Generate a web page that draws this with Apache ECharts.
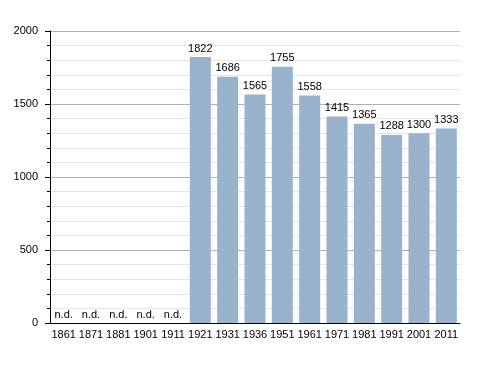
<!DOCTYPE html>
<html><head><meta charset="utf-8">
<script src="https://cdn.jsdelivr.net/npm/echarts@6/dist/echarts.min.js"></script>
<style>html,body{margin:0;padding:0;background:#fff}#c{width:488px;height:373px}</style>
</head><body><div id="c"></div>
<script>
var categories = ['1861','1871','1881','1901','1911','1921','1931','1936','1951','1961','1971','1981','1991','2001','2011'];
var population = [null,null,null,null,null,1822,1686,1565,1755,1558,1415,1365,1288,1300,1333];
var yTicks = [0,500,1000,1500,2000];

var chart = echarts.init(document.getElementById('c'));
var font = 'Liberation Sans, Arial, sans-serif';
chart.setOption({
  animation:false,
  grid:{left:50,right:28,top:31,bottom:50},
  xAxis:{type:'category',data:categories,
    axisLine:{lineStyle:{color:'#000',width:1}},
    axisTick:{show:false},
    axisLabel:{color:'#000',fontFamily:font,fontSize:11,margin:6,interval:0}},
  yAxis:{type:'value',min:0,max:2000,interval:500,
    axisLine:{show:true,lineStyle:{color:'#000'}},
    axisTick:{show:true,length:5,lineStyle:{color:'#000'}},
    minorTick:{show:true,splitNumber:5,length:3,lineStyle:{color:'#000'}},
    axisLabel:{color:'#000',fontFamily:font,fontSize:11,margin:12,
      formatter:function(v){return yTicks.indexOf(v)>=0?String(v):'';}},
    splitLine:{show:true,lineStyle:{color:'#b0b0b0',width:1}},
    minorSplitLine:{show:true,lineStyle:{color:'#e4e4e4',width:1}}},
  series:[{type:'bar',barWidth:'77%',
    data:population.map(function(v){return v===null?0:v;}),
    itemStyle:{color:'#9ab3cd'},
    label:{show:true,position:'top',distance:3,color:'#000',fontFamily:font,fontSize:11,
      formatter:function(p){return population[p.dataIndex]===null?'n.d.':String(p.value);}}}]
});
</script></body></html>
